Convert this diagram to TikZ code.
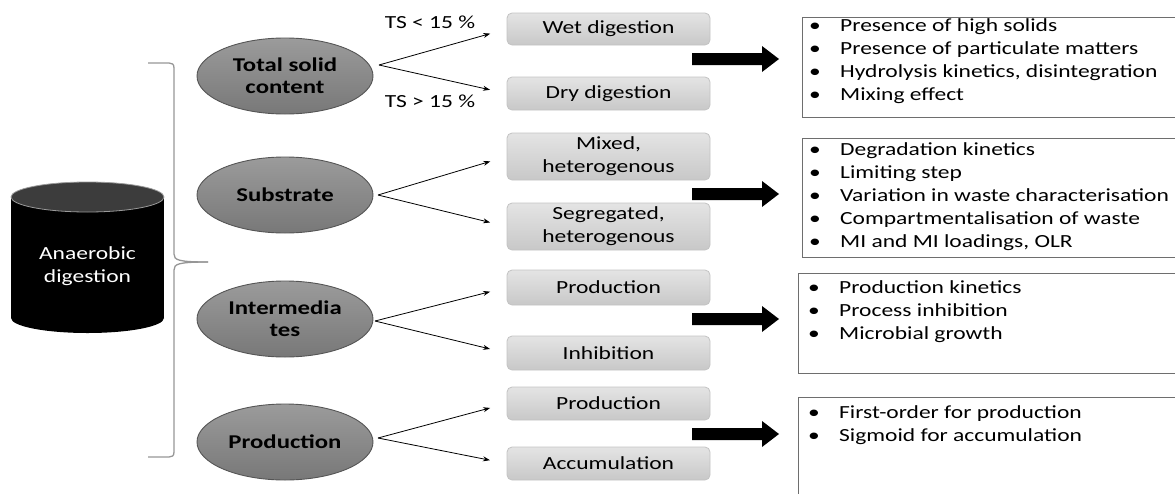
\documentclass[tikz,border=0pt]{standalone}
\usepackage{fontspec}
\setmainfont{Carlito}[FakeStretch=1.27]
\usetikzlibrary{arrows.meta,shapes.geometric}
\definecolor{ellTop}{RGB}{155,155,155}
\definecolor{ellBot}{RGB}{120,120,120}
\definecolor{ellBorder}{RGB}{85,85,85}
\definecolor{gTop}{RGB}{228,228,228}
\definecolor{gBot}{RGB}{200,200,200}
\definecolor{gBorder}{RGB}{195,195,195}
\definecolor{rBorder}{RGB}{110,110,110}
\definecolor{cylTop}{RGB}{60,60,60}
\definecolor{braceC}{RGB}{150,150,150}
\newcommand\mybul{\makebox[31pt][l]{\textbullet}}
\begin{document}
\begin{tikzpicture}[x=1pt,y=-1pt,
 txt/.style={font=\fontsize{18.5}{23}\selectfont, inner sep=0pt},
 ell/.style={ellipse, draw=ellBorder, line width=0.9pt, top color=ellTop, bottom color=ellBot, minimum width=176pt, minimum height=76pt, inner sep=0pt, align=center, font=\fontsize{19.5}{22}\selectfont\bfseries},
 gbox/.style={rectangle, rounded corners=5pt, draw=gBorder, line width=0.8pt, top color=gTop, bottom color=gBot, minimum width=203pt, inner sep=0pt, align=center, font=\fontsize{18.5}{23}\selectfont},
 rbox/.style={rectangle, draw=rBorder, line width=1.2pt, fill=white, anchor=north west, inner sep=0pt},
 thinarr/.style={-{Stealth[length=7pt,width=5pt]}, line width=0.8pt, shorten >=17pt},
 list/.style={anchor=west, align=left, inner sep=0pt, font=\fontsize{18.5}{23}\selectfont},
 bigarr/.pic={\fill[black] (0,-6) -- (70,-6) -- (70,-13) -- (87,0) -- (70,13) -- (70,6) -- (0,6) -- cycle;},
]
\useasboundingbox (0,0) rectangle (1175,493);

% cylinder
\fill[black] (11,197) rectangle (164,318);
\fill[black] (87.5,318) ellipse [x radius=76.5, y radius=15];
\draw[fill=cylTop, draw=gray!80, line width=0.8pt] (87.5,197) ellipse [x radius=76.5, y radius=15];
\node[txt, text=white, align=center] (ad) at (87.5,266) {Anaerobic\\digestion};

% brace
\draw[braceC, line width=1.3pt] (148,63) -- (169,63) .. controls (172,63) and (174,64) .. (174,68) -- (174,254) .. controls (174,260) and (178,262) .. (208,262);
\draw[braceC, line width=1.3pt] (208,262) .. controls (178,262) and (174,264) .. (174,270) -- (174,452) .. controls (174,456) and (172,457) .. (169,457) -- (148,457);

% ellipses
\node[ell] (tsc) at (285,76) {Total solid\\content};
\node[ell] (sub) at (285,195) {Substrate};
\node[ell] (int) at (285,319) {Intermedia\\tes};
\node[ell] (pro) at (285,442) {Production};

% grey boxes
\node[gbox, minimum height=32pt] (wet) at (608.5,29) {Wet digestion};
\node[gbox, minimum height=33pt] (dry) at (608.5,93.5) {Dry digestion};
\node[gbox, minimum height=47pt] (mix) at (608.5,156.5) {Mixed,\\heterogenous};
\node[gbox, minimum height=47pt] (seg) at (608.5,226.5) {Segregated,\\heterogenous};
\node[gbox, minimum height=35pt] (ip) at (608.5,287.5) {Production};
\node[gbox, minimum height=34pt] (ii) at (608.5,353) {Inhibition};
\node[gbox, minimum height=33pt] (pp) at (608.5,403.5) {Production};
\node[gbox, minimum height=33pt] (pa) at (608.5,463.5) {Accumulation};

% thin arrows
\coordinate (s1) at (379,65);
\coordinate (s2) at (378,195);
\coordinate (s3) at (375,321);
\coordinate (s4) at (378,438);
\draw[thinarr] (s1) -- (wet.west);
\draw[thinarr] (s1) -- (dry.west);
\draw[thinarr] (s2) -- (mix.west);
\draw[thinarr] (s2) -- (seg.west);
\draw[thinarr] (s3) -- (ip.west);
\draw[thinarr] (s3) -- (ii.west);
\draw[thinarr] (s4) -- (pp.west);
\draw[thinarr] (s4) -- (pa.west);
\node[txt] (tsl) at (430,22) {TS < 15 \%};
\node[txt] (tsg) at (430,101) {TS > 15 \%};

% big arrows
\pic at (692,59) {bigarr};
\pic at (692,194) {bigarr};
\pic at (692,319) {bigarr};
\pic at (692,434) {bigarr};

% right boxes
\node[rbox, minimum width=378pt, minimum height=100pt] (r1) at (802,17) {};
\node[rbox, minimum width=378pt, minimum height=119pt] (r2) at (802,138) {};
\node[rbox, minimum width=382pt, minimum height=100pt] (r3) at (798,273) {};
\node[rbox, minimum width=382pt, minimum height=110pt] (r4) at (798,397) {};

\node[list] (l1) at (809,61) {\mybul Presence of high solids\\\mybul Presence of particulate matters\\\mybul Hydrolysis kinetics, disintegration\\\mybul Mixing effect};
\node[list] (l2) at (809,196.5) {\mybul Degradation kinetics\\\mybul Limiting step\\\mybul Variation in waste characterisation\\\mybul Compartmentalisation of waste\\\mybul MI and MI loadings, OLR};
\node[list] (l3) at (808,311.5) {\mybul Production kinetics\\\mybul Process inhibition\\\mybul Microbial growth};
\node[list] (l4) at (808,425) {\mybul First-order for production\\\mybul Sigmoid for accumulation};
\end{tikzpicture}
\end{document}
